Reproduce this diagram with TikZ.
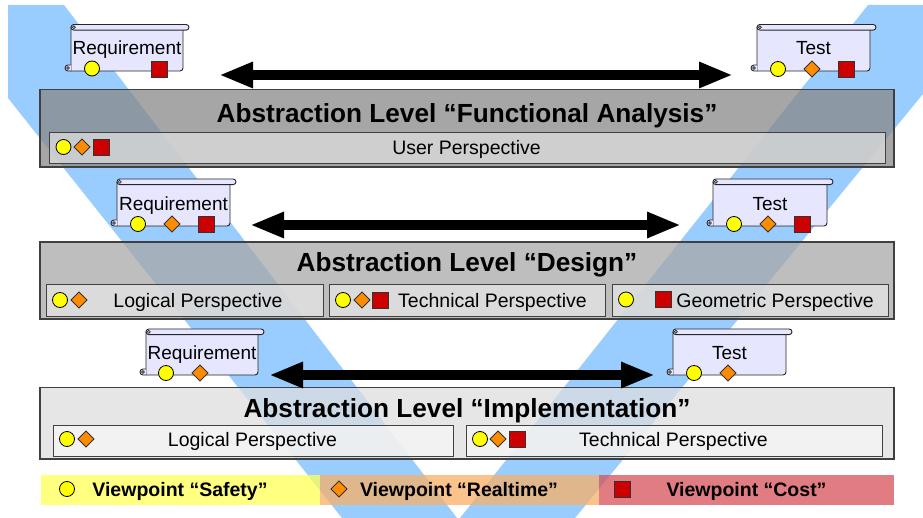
\documentclass[tikz,border=0pt]{standalone}
\usepackage{fontspec}
\setmainfont{Liberation Sans}
\usetikzlibrary{arrows.meta}
\definecolor{vblue}{RGB}{153,204,255}
\definecolor{lvA}{RGB}{136,136,136}
\definecolor{lvAi}{RGB}{222,222,222}
\definecolor{lvB}{RGB}{168,168,168}
\definecolor{lvBi}{RGB}{230,230,230}
\definecolor{lvC}{RGB}{222,222,222}
\definecolor{lvCi}{RGB}{246,246,246}
\definecolor{bord}{RGB}{64,64,64}
\definecolor{scrollfill}{RGB}{230,230,255}
\definecolor{symyel}{RGB}{255,255,0}
\definecolor{symora}{RGB}{255,140,0}
\definecolor{symred}{RGB}{204,0,0}
\definecolor{legY}{RGB}{255,255,86}
\definecolor{legO}{RGB}{248,175,102}
\definecolor{legR}{RGB}{215,82,88}
\tikzset{
  lvbox/.style={draw=bord, line width=1.2pt, fill opacity=0.75, inner sep=0pt, outer sep=0pt, anchor=north west},
  pbox/.style={draw=bord, line width=1pt, fill opacity=0.75, inner sep=0pt, outer sep=0pt, anchor=north west},
  legbar/.style={draw=none, fill opacity=0.75, inner sep=0pt, outer sep=0pt, anchor=north west, minimum height=30pt},
  ttl/.style={font=\fontsize{26.2}{30}\selectfont\bfseries, anchor=base, inner sep=0pt},
  ptxt/.style={font=\fontsize{19.5}{23}\selectfont, anchor=base, inner sep=0pt},
  stxt/.style={font=\fontsize{19}{23}\selectfont, anchor=base, inner sep=0pt},
  legtxt/.style={font=\fontsize{19.5}{23}\selectfont\bfseries, anchor=base, inner sep=0pt},
  scrollst/.style={draw=black!85, line width=0.9pt, fill=scrollfill},
  bigarrow/.style={line width=10pt, {Triangle[length=34pt,width=24pt]}-{Triangle[length=34pt,width=24pt]}},
}
\newcommand{\symC}[2]{\filldraw[fill=symyel, draw=black, line width=0.8pt] (#1,#2) circle[radius=7.5pt];}
\newcommand{\symD}[2]{\filldraw[fill=symora, draw=black!80, line width=0.8pt] (#1-8,#2) -- (#1,#2-8) -- (#1+8,#2) -- (#1,#2+8) -- cycle;}
\newcommand{\symS}[2]{\filldraw[fill=symred, draw=black!80, line width=0.8pt] (#1-8,#2-8) rectangle (#1+8,#2+8);}
% x0 x1 top bottom
\newcommand{\scrollshape}[4]{%
  \filldraw[scrollst] (#1,#3+3) -- (#1,#4) -- (#2-3,#4) arc[start angle=270,end angle=360,radius=3pt] -- (#2,#3+3) -- cycle;
  \filldraw[scrollst] (#1,#4) -- (#1-3,#4) arc[start angle=270,end angle=90,radius=3pt] -- (#1,#4-6);
  \draw[black!85, line width=0.7pt] (#1-3,#4-3) circle[radius=1.3pt];
  \filldraw[scrollst] (#1+2.8,#3) -- (#2+3.2,#3) arc[start angle=90,end angle=-90,radius=2.8pt] -- (#1+2.8,#3+5.6) arc[start angle=270,end angle=90,radius=2.8pt] -- cycle;
  \draw[black!85, line width=0.7pt] (#1+2.8,#3+2.8) circle[radius=1.5pt];
}
\begin{document}
\begin{tikzpicture}[x=1pt,y=-1pt]
\useasboundingbox (0,0) rectangle (923,518);
% V bands
\begin{scope}
  \clip (8,5) rectangle (923,518);
  \fill[vblue] (-66,5) -- (64,5) -- (457,518) -- (342,518) -- cycle;
  \fill[vblue] (868,5) -- (996,5) -- (575,518) -- (460,518) -- cycle;
\end{scope}
% level boxes
\node[lvbox, fill=lvA, minimum width=854pt, minimum height=77.5pt] (L1) at (40,89.5) {};
\node[pbox, fill=lvAi, minimum width=836pt, minimum height=31pt] (P1) at (49,133) {};
\node[lvbox, fill=lvB, minimum width=854pt, minimum height=77pt] (L2) at (40,242) {};
\node[pbox, fill=lvBi, minimum width=277pt, minimum height=32pt] (P2a) at (46,285) {};
\node[pbox, fill=lvBi, minimum width=276pt, minimum height=32pt] (P2b) at (329,285) {};
\node[pbox, fill=lvBi, minimum width=276pt, minimum height=32pt] (P2c) at (612,285) {};
\node[lvbox, fill=lvC, minimum width=854pt, minimum height=71.5pt] (L3) at (40,387.5) {};
\node[pbox, fill=lvCi, minimum width=400pt, minimum height=31pt] (P3a) at (53,425) {};
\node[pbox, fill=lvCi, minimum width=416pt, minimum height=31pt] (P3b) at (466,425) {};
% legend bars
\node[legbar, fill=legY, minimum width=279pt] (VS) at (41,475) {};
\node[legbar, fill=legO, minimum width=279pt] (VR) at (320,475) {};
\node[legbar, fill=legR, minimum width=295pt] (VC) at (599,475) {};
% titles
\node[ttl] (L1t) at (467,123) {Abstraction Level “Functional Analysis”};
\node[ttl] (L2t) at (467,272) {Abstraction Level “Design”};
\node[ttl] (L3t) at (467,417) {Abstraction Level “Implementation”};
% perspectives
\node[ptxt] (P1t) at (466.5,155) {User Perspective};
\node[ptxt] (P2at) at (198,307.5) {Logical Perspective};
\node[ptxt] (P2bt) at (492.5,307.5) {Technical Perspective};
\node[ptxt] (P2ct) at (775,307.5) {Geometric Perspective};
\node[ptxt] (P3at) at (252.5,446.5) {Logical Perspective};
\node[ptxt] (P3bt) at (673.5,446.5) {Technical Perspective};
% legend texts
\node[legtxt] (VSt) at (180,496.5) {Viewpoint “Safety”};
\node[legtxt] (VRt) at (459,496.5) {Viewpoint “Realtime”};
\node[legtxt] (VCt) at (746.5,496.5) {Viewpoint “Cost”};
% scrolls
\scrollshape{71}{183}{24.5}{71}
\scrollshape{757}{870}{24.5}{71}
\scrollshape{117}{230}{179}{226}
\scrollshape{713}{827}{179}{226}
\scrollshape{146}{258}{329}{375}
\scrollshape{673}{786}{329}{375}
\node[stxt] (R1) at (127,54.5) {Requirement};
\node[stxt] (T1) at (813.5,54.5) {Test};
\node[stxt] (R2) at (173.5,210.5) {Requirement};
\node[stxt] (T2) at (770,210.5) {Test};
\node[stxt] (R3) at (202,359.5) {Requirement};
\node[stxt] (T3) at (729.5,359.5) {Test};
% symbols
\symC{63.5}{147} \symD{82}{147} \symS{101}{147}
\symC{92}{68.5} \symS{159.5}{69.5}
\symC{778}{69} \symD{812}{69} \symS{846}{69.5}
\symC{138}{224} \symD{172}{224} \symS{206}{224.5}
\symC{734}{224} \symD{768}{224} \symS{802.5}{224.5}
\symC{60}{300} \symD{79}{300}
\symC{343}{300} \symD{362}{300} \symS{380}{300}
\symC{626}{299.5} \symS{663}{299.5}
\symC{166}{373} \symD{200}{373}
\symC{694}{373} \symD{728}{373}
\symC{67}{439} \symD{86}{439}
\symC{480}{439} \symD{498}{439} \symS{517}{439}
\symC{67}{489} \symD{339}{489} \symS{622.5}{489}
% arrows
\coordinate (a1l) at (219,75);
\coordinate (a1r) at (733,75);
\coordinate (a2l) at (250,225);
\coordinate (a2r) at (681,225);
\coordinate (a3l) at (269,375);
\coordinate (a3r) at (655,375);
\draw[bigarrow] (a1l) -- (a1r);
\draw[bigarrow] (a2l) -- (a2r);
\draw[bigarrow] (a3l) -- (a3r);
\end{tikzpicture}
\end{document}
